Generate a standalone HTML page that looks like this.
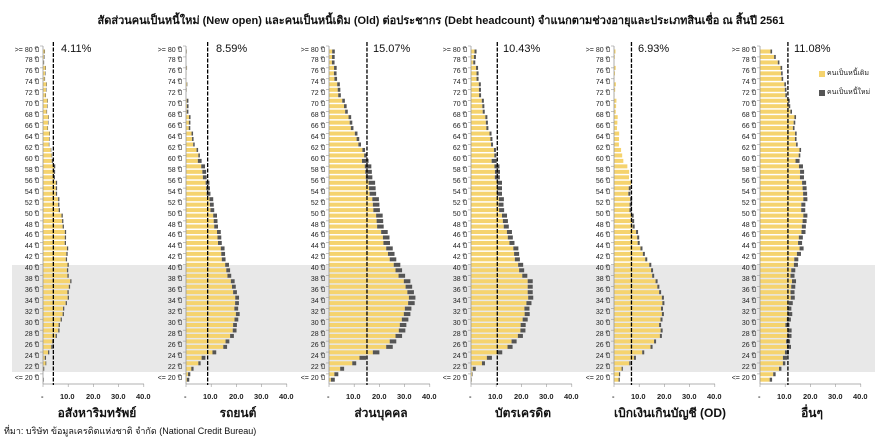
<!DOCTYPE html>
<html><head><meta charset="utf-8">
<style>
body{margin:0;background:#fff;}
#w{position:relative;width:882px;height:447px;overflow:hidden;font-family:"Liberation Sans","Noto Sans CJK SC",sans-serif;}
.yl{position:absolute;top:45.5px;width:40px;text-align:right;font-size:7px;line-height:10.93px;white-space:pre;color:#222;}
.t{position:absolute;font-size:7.5px;font-weight:bold;color:#222;}
.pn{position:absolute;top:404px;font-size:12px;font-weight:bold;color:#111;width:120px;text-align:center;}
.pv{position:absolute;top:43px;font-size:11px;color:#111;}
</style></head><body><div id="w">
<div style="position:absolute;top:11px;left:0;width:882px;text-align:center;font-size:11px;font-weight:bold;color:#111;">สัดส่วนคนเป็นหนี้ใหม่ (New open) และคนเป็นหนี้เดิม (Old) ต่อประชากร (Debt headcount) จำแนกตามช่วงอายุและประเภทสินเชื่อ ณ สิ้นปี 2561</div>
<div style="position:absolute;left:12px;top:265px;width:863px;height:107px;background:#e8e8e8;"></div>
<svg id="s" width="882" height="447" style="position:absolute;left:0;top:0"></svg>

<div class="yl" style="left:-1px">&gt;= 80 ปี
78 ปี
76 ปี
74 ปี
72 ปี
70 ปี
68 ปี
66 ปี
64 ปี
62 ปี
60 ปี
58 ปี
56 ปี
54 ปี
52 ปี
50 ปี
48 ปี
46 ปี
44 ปี
42 ปี
40 ปี
38 ปี
36 ปี
34 ปี
32 ปี
30 ปี
28 ปี
26 ปี
24 ปี
22 ปี
&lt;= 20 ปี</div>
<div class="yl" style="left:142px">&gt;= 80 ปี
78 ปี
76 ปี
74 ปี
72 ปี
70 ปี
68 ปี
66 ปี
64 ปี
62 ปี
60 ปี
58 ปี
56 ปี
54 ปี
52 ปี
50 ปี
48 ปี
46 ปี
44 ปี
42 ปี
40 ปี
38 ปี
36 ปี
34 ปี
32 ปี
30 ปี
28 ปี
26 ปี
24 ปี
22 ปี
&lt;= 20 ปี</div>
<div class="yl" style="left:285px">&gt;= 80 ปี
78 ปี
76 ปี
74 ปี
72 ปี
70 ปี
68 ปี
66 ปี
64 ปี
62 ปี
60 ปี
58 ปี
56 ปี
54 ปี
52 ปี
50 ปี
48 ปี
46 ปี
44 ปี
42 ปี
40 ปี
38 ปี
36 ปี
34 ปี
32 ปี
30 ปี
28 ปี
26 ปี
24 ปี
22 ปี
&lt;= 20 ปี</div>
<div class="yl" style="left:427px">&gt;= 80 ปี
78 ปี
76 ปี
74 ปี
72 ปี
70 ปี
68 ปี
66 ปี
64 ปี
62 ปี
60 ปี
58 ปี
56 ปี
54 ปี
52 ปี
50 ปี
48 ปี
46 ปี
44 ปี
42 ปี
40 ปี
38 ปี
36 ปี
34 ปี
32 ปี
30 ปี
28 ปี
26 ปี
24 ปี
22 ปี
&lt;= 20 ปี</div>
<div class="yl" style="left:570px">&gt;= 80 ปี
78 ปี
76 ปี
74 ปี
72 ปี
70 ปี
68 ปี
66 ปี
64 ปี
62 ปี
60 ปี
58 ปี
56 ปี
54 ปี
52 ปี
50 ปี
48 ปี
46 ปี
44 ปี
42 ปี
40 ปี
38 ปี
36 ปี
34 ปี
32 ปี
30 ปี
28 ปี
26 ปี
24 ปี
22 ปี
&lt;= 20 ปี</div>
<div class="yl" style="left:716px">&gt;= 80 ปี
78 ปี
76 ปี
74 ปี
72 ปี
70 ปี
68 ปี
66 ปี
64 ปี
62 ปี
60 ปี
58 ปี
56 ปี
54 ปี
52 ปี
50 ปี
48 ปี
46 ปี
44 ปี
42 ปี
40 ปี
38 ปี
36 ปี
34 ปี
32 ปี
30 ปี
28 ปี
26 ปี
24 ปี
22 ปี
&lt;= 20 ปี</div>

<div class="pv" style="left:61px">4.11%</div>
<div class="pv" style="left:216px">8.59%</div>
<div class="pv" style="left:373px">15.07%</div>
<div class="pv" style="left:503px">10.43%</div>
<div class="pv" style="left:638px">6.93%</div>
<div class="pv" style="left:794px">11.08%</div>

<div class="t" style="left:41px;top:392px">-</div><div class="t" style="left:60px;top:392px">10.0</div><div class="t" style="left:86px;top:392px">20.0</div><div class="t" style="left:111px;top:392px">30.0</div><div class="t" style="left:136px;top:392px">40.0</div>
<div class="t" style="left:184px;top:392px">-</div><div class="t" style="left:203px;top:392px">10.0</div><div class="t" style="left:229px;top:392px">20.0</div><div class="t" style="left:254px;top:392px">30.0</div><div class="t" style="left:279px;top:392px">40.0</div>
<div class="t" style="left:327px;top:392px">-</div><div class="t" style="left:346px;top:392px">10.0</div><div class="t" style="left:372px;top:392px">20.0</div><div class="t" style="left:397px;top:392px">30.0</div><div class="t" style="left:422px;top:392px">40.0</div>
<div class="t" style="left:469px;top:392px">-</div><div class="t" style="left:488px;top:392px">10.0</div><div class="t" style="left:514px;top:392px">20.0</div><div class="t" style="left:539px;top:392px">30.0</div><div class="t" style="left:564px;top:392px">40.0</div>
<div class="t" style="left:612px;top:392px">-</div><div class="t" style="left:631px;top:392px">10.0</div><div class="t" style="left:657px;top:392px">20.0</div><div class="t" style="left:682px;top:392px">30.0</div><div class="t" style="left:707px;top:392px">40.0</div>
<div class="t" style="left:758px;top:392px">-</div><div class="t" style="left:777px;top:392px">10.0</div><div class="t" style="left:803px;top:392px">20.0</div><div class="t" style="left:828px;top:392px">30.0</div><div class="t" style="left:853px;top:392px">40.0</div>

<div class="pn" style="left:37px">อสังหาริมทรัพย์</div>
<div class="pn" style="left:178px">รถยนต์</div>
<div class="pn" style="left:321px">ส่วนบุคคล</div>
<div class="pn" style="left:463px">บัตรเครดิต</div>
<div class="pn" style="left:610px">เบิกเงินเกินบัญชี (OD)</div>
<div class="pn" style="left:752px">อื่นๆ</div>

<div style="position:absolute;left:819px;top:71px;width:6px;height:6px;background:#F5D36E"></div>
<div style="position:absolute;left:827px;top:68px;font-size:7px;color:#222">คนเป็นหนี้เดิม</div>
<div style="position:absolute;left:819px;top:90px;width:6px;height:6px;background:#555"></div>
<div style="position:absolute;left:827px;top:87px;font-size:7px;color:#222">คนเป็นหนี้ใหม่</div>

<div style="position:absolute;left:4px;top:424px;font-size:9px;color:#111">ที่มา: บริษัท ข้อมูลเครดิตแห่งชาติ จำกัด (National Credit Bureau)</div>
</div>
<script>
var s=document.getElementById('s'),NS='http://www.w3.org/2000/svg';
function el(n,a){var e=document.createElementNS(NS,n);for(var k in a)e.setAttribute(k,a[k]);s.appendChild(e);return e;}
var U=2.52;
var P=[
{x:43,v:4.11,d:0.5,k:{80:0.5,76:1,72:1.5,70:1.8,66:2.3,62:3,60:4.3,56:5.3,52:6.5,48:8.6,44:9.7,40:10,38:11,36:10.5,34:9.5,32:8,30:7,28:5.5,26:3.5,24:1.5,22:0.5,20:0}},
{x:186,v:8.59,d:1.5,k:{80:0,72:0.3,70:1,66:2,64:3,62:4.5,60:6.5,58:8,56:9,54:10,52:11,50:12,48:13,46:14,44:15,42:16,40:17.5,38:19,36:20.5,34:21,32:21,30:20.5,28:19,26:16,24:8,22:3,20:1}},
{x:329,v:15.07,d:2.6,k:{80:2,76:3,72:5,70:7,66:10,62:14,60:16,56:18,52:20,50:21,48:22,46:24,44:25,42:27,40:29,38:32,36:34,34:34,32:32,30:31,28:29,26:25,24:15,22:6,20:2}},
{x:471,v:10.43,d:2,k:{80:1.9,78:2,76:3,74:3.6,72:4.3,70:5.3,68:6.2,66:7.2,64:8.5,62:9.6,60:10.5,58:11.5,56:12,54:12.6,52:12.9,50:14,48:15.3,46:16.6,44:18.5,42:19.7,40:21.1,38:24.2,36:24.8,34:24,32:23,30:22,28:20.6,26:16.2,24:8.6,22:1.9,20:0}},
{x:614,v:6.93,d:0.8,k:{80:0.3,72:0.5,66:1.5,64:2,62:2.5,60:4,58:6,56:6.5,54:6.8,52:7,50:7.5,48:8.5,46:10,44:11,42:13.5,40:15.5,38:17,36:19,34:20,32:19.5,30:19,28:19,26:15,24:9,22:3.5,20:2}},
{x:760,v:11.08,d:1.6,k:{80:4.5,78:8,76:9,74:10,72:11,70:12,68:14,66:14,64:14.5,62:16,60:16,58:17.5,56:18,54:19,52:18,50:18.5,48:18.5,46:17,44:17,42:15.5,40:14,38:14,36:14,34:13,32:12.5,30:12,28:12.5,26:12,24:11,22:8.5,20:4.5}}
];
function interp(k,a){var ks=Object.keys(k).map(Number).sort(function(a,b){return a-b});
for(var i=0;i<ks.length-1;i++){if(a>=ks[i]&&a<=ks[i+1]){var t=(a-ks[i])/(ks[i+1]-ks[i]);return k[ks[i]]*(1-t)+k[ks[i+1]]*t;}}return k[ks[ks.length-1]];}
P.forEach(function(p,pi){
 for(var a=80;a>=20;a--){
  var y=49.5+(80-a)*5.47;
  var L=interp(p.k,a)+((a*7)%3-1)*0.3; if(L<0)L=0;
  var d=p.d*(a<24?0.6:a>60?0.4:1); if(pi==4&&a>55)d=0; if(d>L)d=L*0.3;
  var w=L*U, dw=d*U;
  if(w-dw>0)el('rect',{x:p.x,y:y,width:w-dw,height:4,fill:'#F5D36E'});
  if(dw>0)el('rect',{x:p.x+w-dw,y:y,width:dw,height:4,fill:'#555'});
 }
 el('line',{x1:p.x,y1:46,x2:p.x,y2:384,stroke:'#999','stroke-width':0.8});
 for(var i=0;i<=30;i++){var yy=46+i*10.93;el('line',{x1:p.x-3,y1:yy,x2:p.x,y2:yy,stroke:'#999','stroke-width':0.6});}
 el('line',{x1:p.x,y1:384,x2:p.x+101,y2:384,stroke:'#999','stroke-width':0.8});
 for(var j=0;j<=4;j++)el('line',{x1:p.x+j*25.2,y1:384,x2:p.x+j*25.2,y2:387,stroke:'#999','stroke-width':0.6});
 var dx=p.x+p.v*U;
 el('line',{x1:dx,y1:42,x2:dx,y2:385,stroke:'#000','stroke-width':1.3,'stroke-dasharray':'4,1.5'});
});
</script>
</body></html>
